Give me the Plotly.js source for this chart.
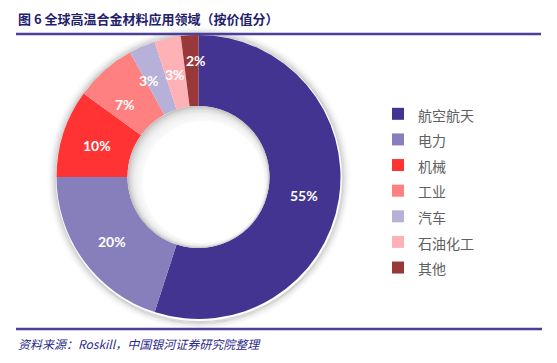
<!DOCTYPE html>
<html><head><meta charset="utf-8">
<script src="https://cdn.plot.ly/plotly-3.0.1.min.js"></script>
<style>html,body{margin:0;padding:0;background:#fff;}#chart{width:557px;height:363px;}</style>
</head><body><div id="chart"></div>
<script>
const categories = ["航空航天","电力","机械","工业","汽车","石油化工","其他"];
const shares = [55, 20, 10, 7, 3, 3, 2];
const sliceColors = ["#433492","#877fbc","#ff3334","#ff8080","#b7b0d8","#ffb2b5","#983838"];
const titleText = "图 6 全球高温合金材料应用领域（按价值分）";
const sourceText = "资料来源：<i>Roskill</i>，中国银河证券研究院整理";

const W = 557, H = 363;
const cx = 198.5, cy = 177, R = 142, HOLE = 0.5;
// pixel nudges of the percent labels away from the ring mid-point (style only)
const labelNudge = [[0, 1.5], [0, 1.5], [0, 1.5], [-3, 7], [-7, 1.5], [0, 1], [4, -10]];

function circle(x, y, r, fill, lineColor, lineWidth) {
  return {type: "circle", xref: "paper", yref: "paper", layer: "above",
    x0: (x - r) / W, x1: (x + r) / W, y0: 1 - (y + r) / H, y1: 1 - (y - r) / H,
    fillcolor: fill, line: {width: lineWidth || 0, color: lineColor || "rgba(0,0,0,0)"}};
}

const shapes = [];
// soft outer shadow: thin rings just outside the donut
for (let k = 0; k < 10; k++) {
  const a = 0.17 * Math.pow(1 - k / 10, 2);
  shapes.push(circle(cx + 0.5, cy + 1, R + 1.6 + k, "rgba(0,0,0,0)", "rgba(0,0,0," + a.toFixed(3) + ")", 1.1));
}
// inner shadow inside the hole
const rh = R * HOLE;
shapes.push(circle(cx, cy, rh, "#c4c4c4"));
for (let k = 1; k <= 10; k++) shapes.push(circle(cx + k * 0.45, cy + k * 0.45, rh - k * 0.9, "rgba(255,255,255,0.22)"));
shapes.push(circle(cx + 5, cy + 5, rh - 10, "#ffffff"));
shapes.push({type: "line", xref: "paper", yref: "paper", x0: 16 / W, x1: 541 / W, y0: 1 - 34 / H, y1: 1 - 34 / H, line: {color: "#4b3f9b", width: 2.5}});
shapes.push({type: "line", xref: "paper", yref: "paper", x0: 16 / W, x1: 542 / W, y0: 1 - 329 / H, y1: 1 - 329 / H, line: {color: "#4b3f9b", width: 2.5}});

const total = shares.reduce((a, b) => a + b, 0);
const annotations = [];
let cum = 0;
const rLab = R * (1 + HOLE) / 2;
shares.forEach((v, i) => {
  const mid = (cum + v / 2) / total * 2 * Math.PI;
  cum += v;
  const x = cx + rLab * Math.sin(mid) + labelNudge[i][0];
  const y = cy - rLab * Math.cos(mid) + labelNudge[i][1];
  annotations.push({text: "<b>" + Math.round(v / total * 100) + "%</b>", xref: "paper", yref: "paper",
    x: x / W, y: 1 - y / H, xanchor: "center", yanchor: "middle", showarrow: false,
    font: {family: "Lato, 'Open Sans', sans-serif", size: 14, color: "#ffffff"}});
});
annotations.push({text: "<b>" + titleText + "</b>", xref: "paper", yref: "paper", x: 16 / W, y: 1 - 18 / H, xanchor: "left", yanchor: "middle", showarrow: false,
  font: {family: "'Noto Sans CJK SC', sans-serif", size: 13, color: "#231d6e"}});
annotations.push({text: "<i>" + sourceText + "</i>", xref: "paper", yref: "paper", x: 16 / W, y: 1 - 343 / H, xanchor: "left", yanchor: "middle", showarrow: false,
  font: {family: "'Noto Sans CJK SC', 'Liberation Serif', serif", size: 12, color: "#2b2a8a"}});

const trace = {
  type: "pie",
  labels: categories.map(c => '<span style="font-size:14px">' + c + '</span>'),
  values: shares,
  marker: {colors: sliceColors, line: {width: 0}},
  hole: HOLE,
  sort: false,
  direction: "clockwise",
  rotation: 0,
  textinfo: "none",
  domain: {x: [(cx - R) / W, (cx + R) / W], y: [1 - (cy + R) / H, 1 - (cy - R) / H]},
  hoverinfo: "label+percent"
};

const layout = {
  width: W, height: H,
  margin: {l: 0, r: 0, t: 0, b: 0},
  paper_bgcolor: "#ffffff",
  showlegend: true,
  legend: {
    x: 378 / W, xanchor: "left", y: 1 - 96 / H, yanchor: "top",
    font: {family: "'Noto Sans CJK SC', sans-serif", size: 17.4, color: "#606060"},
    bgcolor: "rgba(0,0,0,0)"
  },
  shapes: shapes,
  annotations: annotations
};

Plotly.newPlot("chart", [trace], layout, {displayModeBar: false, staticPlot: true});
</script>
</body></html>
